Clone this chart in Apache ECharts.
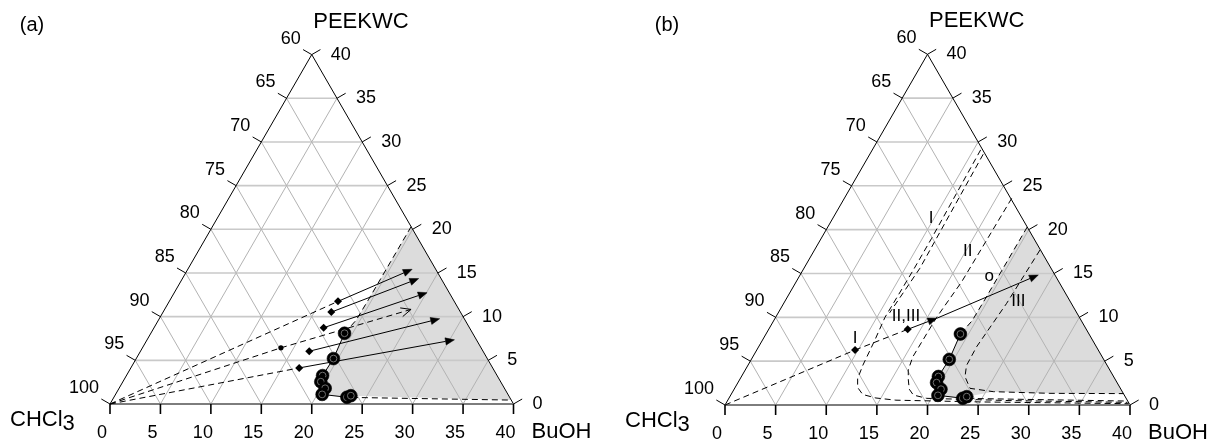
<!DOCTYPE html>
<html><head><meta charset="utf-8">
<script src="https://cdn.jsdelivr.net/npm/echarts@6/dist/echarts.min.js"></script>
<style>html,body{margin:0;padding:0;background:#fff}#c{width:1215px;height:444px}</style>
</head><body><div id="c"></div><script>
// ---------- data: ternary points as [BuOH, PEEKWC]  (CHCl3 = 100 - BuOH - PEEKWC) ----------
const bottomTicks = [0,5,10,15,20,25,30,35,40];      // BuOH
const leftTicks   = [60,65,70,75,80,85,90,95,100];   // CHCl3
const rightTicks  = [0,5,10,15,20,25,30,35,40];      // PEEKWC
const gridSteps   = [5,10,15,20,25,30,35];

const binodal     = [[19.2,8.1],[19.55,5.2],[19.45,3.25],[19.62,2.55],[20.43,1.8],[20.48,1.1],[23.1,0.77],[23.4,0.95]];
const binodalTail = [[23.6,0.75],[39.5,0.45]];
const boundary    = [[19.7,20.3],[19.65,12],[19.6,9.6],[19.2,8.1]];

// panel (a)
const tieStartA = [[16.73,11.75],[16.68,10.52],[16.81,8.73],[16.73,6.04],[16.69,4.13]];
const tieEndA   = [[22.24,15.42],[23.42,14.36],[25.06,12.75],[27.8,9.76],[30.47,7.35]];
const dotA      = [13.73,6.43];
const openTipA  = [24.43,10.83];

// panel (b)
const curveI   = [[10.7,29.1],[10.9,19],[10.9,15.4],[10.8,10],[11.1,7.4],[11.35,4.5],[11.6,3.0],[12.1,2.0],[13.0,1.2],[14.5,0.8],[16.6,0.55],[25,0.35],[39.8,0.15]];
const curveI2  = [[11.2,28.6],[11.45,15.6],[11.0,10.5]];
const curveII  = [[16.53,23.57],[16.35,14.06],[15.9,10],[15.8,5.5],[16.1,4.0],[16.68,2.85],[17.3,1.8],[18.03,1.14],[19.54,0.76],[28,0.5],[39.6,0.3]];
const curveIII = [[22.27,17.68],[22.02,11.6],[21.53,6.65],[21.6,4.5],[22.09,3.23],[23.25,1.9],[25.74,1.52],[31.43,1.33],[38.7,1.3]];
const shadeBottomB = [[25.74,1.52],[31.43,1.33],[38.7,1.3]];
const startIB   = [9.71,6.27];
const startIIB  = [13.73,8.63];
const midB      = [15.97,9.89];
const endB      = [23.53,14.83];
const notesB = [
  {t:'I', at:[9.7,21.3]}, {t:'II', at:[15.23,17.48]}, {t:'III', at:[23.08,11.78]},
  {t:'o', at:[18.75,14.71]}, {t:'II,III', at:[12.84,10.07]}, {t:'I', at:[9.04,7.61]}
];

// ---------- helpers ----------
const FONT = '"Liberation Sans", Arial, Helvetica, sans-serif';
function uv(t){ return [t[0] + t[1]/2, t[1]]; }
const ctx = document.createElement('canvas').getContext('2d');
function textW(s, size){ ctx.font = size + 'px ' + FONT; return ctx.measureText(s).width; }
function txt(s, x, y, size, align, valign){
  return {type:'text', style:{text:s, x:x, y:y, font: size + 'px ' + FONT, fill:'#000',
    align:align, verticalAlign:valign, textAlign:align, textVerticalAlign:valign}};
}

const panelA = {
  tag:'(a)', tagOff:[-78,-379],
  shade: boundary.concat(binodal, [binodalTail[1]]),
  curves: [
    {pts:boundary, dash:true}, {pts:binodal, dash:false}, {pts:binodalTail, dash:true},
    {pts:[[0,0], tieStartA[0]], dash:true}, {pts:[[0,0], dotA], dash:true}, {pts:[[0,0], tieStartA[4]], dash:true}
  ],
  arrows: tieStartA.map((s,i)=>({from:s, to:tieEndA[i], dash:false, open:false}))
           .concat([{from:dotA, to:openTipA, dash:true, open:true}]),
  diamonds: tieStartA, dots:[dotA], circles: binodal, notes: []
};
const panelB = {
  tag:'(b)', tagOff:[-58,-380],
  shade: boundary.concat(binodal, shadeBottomB),
  curves: [
    {pts:boundary, dash:true}, {pts:binodal, dash:false}, {pts:binodalTail, dash:true},
    {pts:curveI, dash:true}, {pts:curveI2, dash:true}, {pts:curveII, dash:true}, {pts:curveIII, dash:true},
    {pts:[[0,0], startIB], dash:true}, {pts:[startIB, startIIB], dash:true}
  ],
  arrows: [{from:startIIB, to:midB, dash:false, open:false}, {from:midB, to:endB, dash:false, open:false}],
  diamonds: [startIB, startIIB], dots: [], circles: binodal, notes: notesB
};

function panelSeries(gi, P){
  const base = {type:'custom', xAxisIndex:gi, yAxisIndex:gi, silent:true, animation:false};
  const S = [];
  const pc = (api, t) => api.coord(uv(t));

  // shading
  S.push(Object.assign({}, base, {z:1, data:[uv(P.shade[0])],
    renderItem:(p, api)=>({type:'polygon', shape:{points:P.shade.map(t=>pc(api,t))}, style:{fill:'#dcdcdc', stroke:null}})}));

  // grid lines
  const gs = [];
  gridSteps.forEach(k=>{
    gs.push({a:[0,k], b:[40-k,k], h:true});
    gs.push({a:[k,0], b:[k,40-k], h:false});
    gs.push({a:[0,k], b:[k,0], h:false});
  });
  S.push(Object.assign({}, base, {z:2, data: gs.map(g=>uv(g.a).concat(uv(g.b))),
    renderItem:(p, api)=>{
      const a = api.coord([api.value(0), api.value(1)]), b = api.coord([api.value(2), api.value(3)]);
      const h = gs[p.dataIndex].h;
      return {type:'line', shape:{x1:a[0],y1:a[1],x2:b[0],y2:b[1]}, style:{stroke: h ? '#c9c9c9' : '#b3b3b3', lineWidth: h ? 1.6 : 1}};
    }}));

  // frame
  const sides = [{pts:[[0,0],[0,40],[40,0]], c:'#000', w:1}, {pts:[[0,0],[40,0]], c:'#7d7d7d', w:2}];
  S.push(Object.assign({}, base, {z:3, data: sides.map(s=>uv(s.pts[0])),
    renderItem:(p, api)=>{ const s = sides[p.dataIndex];
      return {type:'polyline', shape:{points:s.pts.map(t=>pc(api,t))}, style:{stroke:s.c, lineWidth:s.w, fill:null}}; }}));

  // ticks and tick labels
  const tk = [];
  const n = Math.sqrt(3)/2;
  bottomTicks.forEach(v=>tk.push({at:[v,0], nx:0, ny:1, w:1.6, s:String(v), lx:-8, ly:29, al:'center'}));
  leftTicks.forEach(v=>tk.push({at:[0,100-v], nx:-n, ny:-0.5, w:1, s:String(v), lx:-11, ly:-16, al:'right'}));
  rightTicks.forEach(v=>tk.push({at:[40-v,v], nx:n, ny:-0.5, w:1, s:String(v), lx:19, ly:0, al:'left'}));
  S.push(Object.assign({}, base, {z:3, data: tk.map(t=>uv(t.at)),
    renderItem:(p, api)=>{ const t = tk[p.dataIndex]; const c = api.coord([api.value(0), api.value(1)]);
      return {type:'group', children:[
        {type:'line', shape:{x1:c[0], y1:c[1], x2:c[0]+t.nx*10, y2:c[1]+t.ny*10}, style:{stroke:'#000', lineWidth:t.w}},
        txt(t.s, c[0]+t.lx, c[1]+t.ly, 18, t.al, 'middle')
      ]};
    }}));

  // curves
  S.push(Object.assign({}, base, {z:4, data: P.curves.map(c=>uv(c.pts[0])),
    renderItem:(p, api)=>{ const c = P.curves[p.dataIndex];
      return {type:'polyline', shape:{points:c.pts.map(t=>pc(api,t))},
        style:{stroke:'#000', lineWidth:1, fill:null, lineDash: c.dash ? [6,4] : null}}; }}));

  // arrows
  S.push(Object.assign({}, base, {z:5, data: P.arrows.map(a=>uv(a.from).concat(uv(a.to))),
    renderItem:(p, api)=>{ const A = P.arrows[p.dataIndex];
      const a = api.coord([api.value(0), api.value(1)]), b = api.coord([api.value(2), api.value(3)]);
      const dx = b[0]-a[0], dy = b[1]-a[1], L = Math.hypot(dx,dy), ux = dx/L, uy = dy/L;
      const hl = A.open ? 10 : 9, hw = A.open ? 4.5 : 3.6;
      const bx = b[0]-ux*hl, by = b[1]-uy*hl;
      const l = [bx-uy*hw, by+ux*hw], r = [bx+uy*hw, by-ux*hw];
      const end = A.open ? b : [bx, by];
      const ch = [{type:'line', shape:{x1:a[0], y1:a[1], x2:end[0], y2:end[1]},
                   style:{stroke:'#000', lineWidth:1, lineDash: A.dash ? [6,4] : null}}];
      if (A.open) ch.push({type:'polyline', shape:{points:[l, b, r]}, style:{stroke:'#000', lineWidth:1, fill:null}});
      else ch.push({type:'polygon', shape:{points:[b, l, r]}, style:{fill:'#000', stroke:'#000', lineWidth:0.5}});
      return {type:'group', children:ch};
    }}));

  // diamonds
  S.push(Object.assign({}, base, {z:6, data: P.diamonds.map(uv),
    renderItem:(p, api)=>{ const c = api.coord([api.value(0), api.value(1)]), d = 4;
      return {type:'polygon', shape:{points:[[c[0],c[1]-d],[c[0]+d,c[1]],[c[0],c[1]+d],[c[0]-d,c[1]]]}, style:{fill:'#000'}}; }}));
  // small dots
  S.push(Object.assign({}, base, {z:6, data: P.dots.map(uv),
    renderItem:(p, api)=>{ const c = api.coord([api.value(0), api.value(1)]);
      return {type:'circle', shape:{cx:c[0], cy:c[1], r:2.6}, style:{fill:'#000'}}; }}));
  // binodal circles
  S.push(Object.assign({}, base, {z:7, data: P.circles.map(uv),
    renderItem:(p, api)=>{ const c = api.coord([api.value(0), api.value(1)]);
      return {type:'group', children:[
        {type:'circle', shape:{cx:c[0], cy:c[1], r:6.4}, style:{fill:'#000', stroke:'#000', lineWidth:0.6}},
        {type:'circle', shape:{cx:c[0], cy:c[1], r:3.4}, style:{fill:null, stroke:'#6e6e6e', lineWidth:1}}
      ]}; }}));

  // curve labels
  S.push(Object.assign({}, base, {z:8, data: P.notes.map(nn=>uv(nn.at)),
    renderItem:(p, api)=>{ const nn = P.notes[p.dataIndex]; const c = api.coord([api.value(0), api.value(1)]);
      return txt(nn.t, c[0], c[1], 17, 'center', 'middle'); }}));

  // axis titles and panel tag (anchored at the vertices)
  const wC = textW('CHCl', 22);
  const titles = [
    {at:[0,40], s:'PEEKWC', dx:1.5, dy:-33, al:'left', size:22},
    {at:[0,0], s:'CHCl', dx:-100, dy:16, al:'left', size:22},
    {at:[0,0], s:'3', dx:-100 + wC, dy:20, al:'left', size:22},
    {at:[40,0], s:'BuOH', dx:18, dy:28, al:'left', size:22},
    {at:[0,0], s:P.tag, dx:P.tagOff[0], dy:P.tagOff[1], al:'center', size:20}
  ];
  S.push(Object.assign({}, base, {z:8, data: titles.map(t=>uv(t.at)),
    renderItem:(p, api)=>{ const t = titles[p.dataIndex]; const c = api.coord([api.value(0), api.value(1)]);
      return txt(t.s, c[0]+t.dx, c[1]+t.dy, t.size, t.al, 'middle'); }}));
  return S;
}

const chart = echarts.init(document.getElementById('c'), null, {renderer:'canvas'});
chart.setOption({
  animation:false,
  backgroundColor:'#fff',
  grid:[
    {left:110, top:54.6, width:403.5, height:349.4},
    {left:725, top:54.3, width:405, height:350.7}
  ],
  xAxis:[0,1].map(i=>({type:'value', gridIndex:i, min:0, max:40, show:false})),
  yAxis:[0,1].map(i=>({type:'value', gridIndex:i, min:0, max:40, show:false})),
  series: panelSeries(0, panelA).concat(panelSeries(1, panelB))
});
</script></body></html>
